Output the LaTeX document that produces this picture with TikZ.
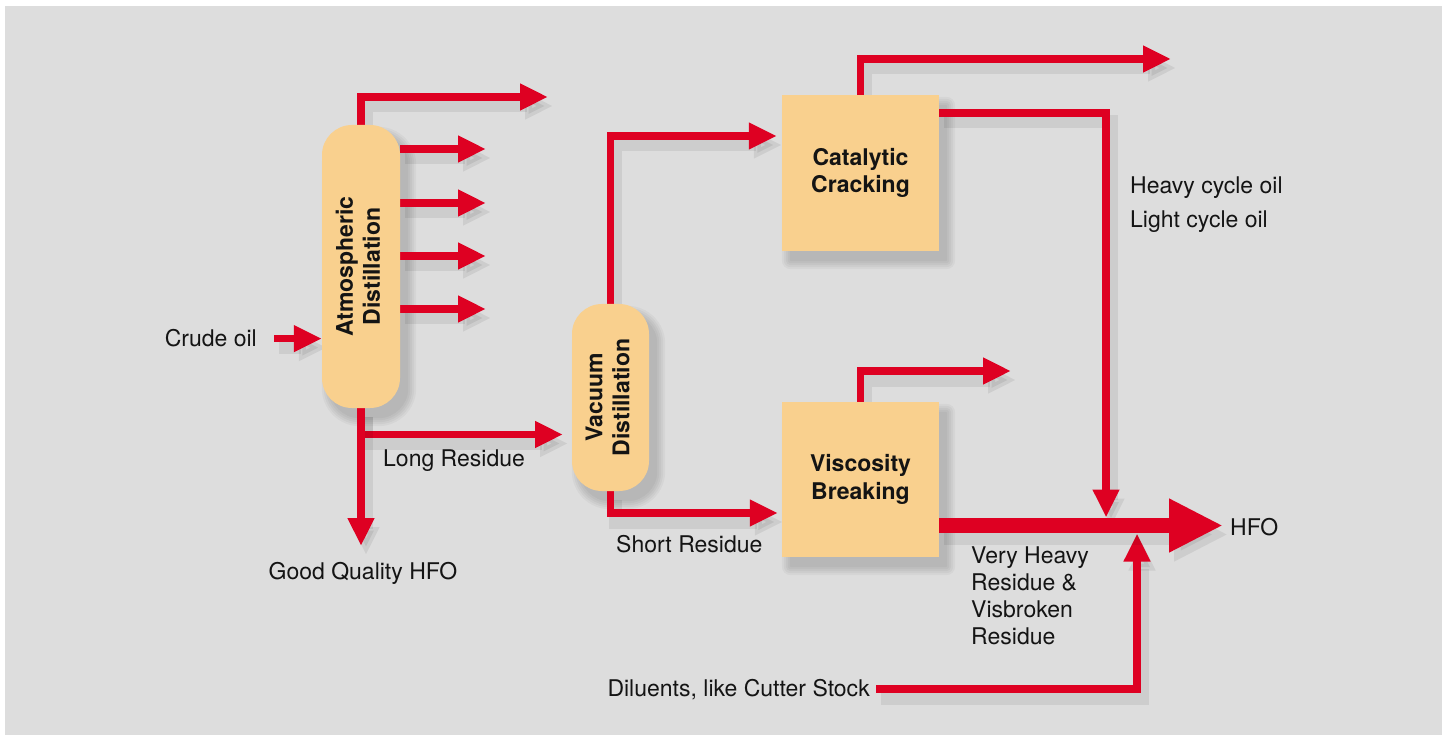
\documentclass[tikz,border=0pt]{standalone}
\usepackage{fontspec}
\setmainfont{TeX Gyre Heros}
\usetikzlibrary{arrows.meta}
\definecolor{bgc}{RGB}{221,221,221}
\definecolor{oil}{RGB}{222,0,34}
\definecolor{boxc}{RGB}{249,208,142}
\definecolor{ink}{RGB}{20,20,20}
\pgfdeclarelayer{shadowlayer}
\pgfdeclarelayer{pipelayer}
\pgfsetlayers{shadowlayer,pipelayer,main}
\begin{document}
\begin{tikzpicture}[x=1pt,y=-1pt,
  txt/.style={inner sep=0pt, text=ink, font=\fontsize{23}{27}\selectfont},
  unitbox/.style={fill=boxc, inner sep=0pt, text=ink, align=center,
    font=\bfseries\fontsize{23}{27.5}\selectfont,
    minimum width=157pt, minimum height=156pt},
  distcol/.style={fill=boxc, inner sep=0pt, text=ink, rounded corners=30pt,
    minimum width=78pt, font=\bfseries\fontsize{23}{27}\selectfont},
  pshadow/.style={preaction={draw=black, opacity=.07, line width=#1,
    transform canvas={shift={(5pt,-9pt)}}}},
  oilpipe/.style={draw=oil, line width=7.5pt,
    -{Triangle[length=28pt,width=25pt]}, pshadow=13pt},
  bigpipe/.style={draw=oil, line width=15.5pt,
    -{Triangle[length=54pt,width=50pt]}, pshadow=20pt},
]
\useasboundingbox (0,0) rectangle (1449,735);
\begin{pgfonlayer}{shadowlayer}
\fill[bgc] (5,6) rectangle (1442,735);
\end{pgfonlayer}

% units
\node[distcol, minimum height=283pt] (atm) at (361,266.5)
  {\rotatebox{90}{\begin{tabular}{@{}c@{}}Atmospheric\\Distillation\end{tabular}}};
\node[distcol, minimum width=77pt, minimum height=187pt] (vac) at (610.5,397.5)
  {\rotatebox{90}{\begin{tabular}{@{}c@{}}Vacuum\\Distillation\end{tabular}}};
\node[unitbox] (cat) at (860.5,173) {Catalytic\\Cracking};
\node[unitbox, minimum height=155pt] (vis) at (860.5,479.5) {Viscosity\\Breaking};

% labels
\node[txt, anchor=base east] (crude) at (257,347) {Crude oil};
\node[txt, anchor=base west] (lres) at (383,466) {Long Residue};
\node[txt, anchor=base] (gq) at (363,579) {Good Quality HFO};
\node[txt, anchor=base west] (sres) at (616,552) {Short Residue};
\node[txt, anchor=base west] (hco) at (1130,194) {Heavy cycle oil};
\node[txt, anchor=base west] (lco) at (1130,228) {Light cycle oil};
\node[txt, anchor=base west] (hfo) at (1230,535) {HFO};
\node[txt, anchor=north west, align=left, font=\fontsize{23}{26.7}\selectfont] (vhr) at (971,547)
  {Very Heavy\\Residue \&\\Visbroken\\Residue};
\node[txt, anchor=base east] (dil) at (870,696) {Diluents, like Cutter Stock};

% free ends
\coordinate (atop) at (548,97);
\coordinate (s1) at (486,149);
\coordinate (s2) at (486,203);
\coordinate (s3) at (486,256);
\coordinate (s4) at (486,309);
\coordinate (gqtip) at (361,546);
\coordinate (lrtip) at (563,434.5);
\coordinate (cattop) at (1171,59);
\coordinate (vistop) at (1011,371);
\coordinate (hfotip) at (1223,525.5);
\coordinate (dtip) at (1106,517.5);
\coordinate (utip) at (1137,533.5);

% box shadows
\begin{pgfonlayer}{shadowlayer}
\foreach \n/\r in {atm/30,vac/30,cat/1,vis/1}{
  \foreach \s [evaluate=\s as \rr using \r+\s] in {0,2,4,6,8}{
    \fill[black, opacity=.035, rounded corners=\rr pt]
      ([shift={(8-\s,10+\s)}]\n.south west) rectangle ([shift={(8+\s,10-\s)}]\n.north east);
  }
}
\end{pgfonlayer}

% pipes
\begin{pgfonlayer}{pipelayer}
\draw[oilpipe] (atm.north) |- (atop);
\foreach \c in {s1,s2,s3,s4} \draw[oilpipe] (atm.east |- \c) -- (\c);
\draw[oilpipe] ([xshift=17pt]crude.east) -- (atm.west |- crude.east);
\draw[oilpipe] (atm.south) |- (lrtip);
\draw[oilpipe] (atm.south) -- (gqtip);
\draw[oilpipe, shorten >=5pt] (vac.north) |- ([yshift=37pt]cat.west);
\draw[oilpipe, shorten >=4pt] (vac.south) |- ([yshift=-33.5pt]vis.west);
\draw[oilpipe] (cat.north) |- (cattop);
\draw[oilpipe] (vis.north) |- (vistop);
\draw[oilpipe] ([yshift=60pt]cat.east) -| (dtip);
\draw[oilpipe] ([xshift=6pt]dil.east) -| (utip);
\draw[bigpipe] (vis.east |- hfotip) -- (hfotip);
\end{pgfonlayer}
\end{tikzpicture}
\end{document}
